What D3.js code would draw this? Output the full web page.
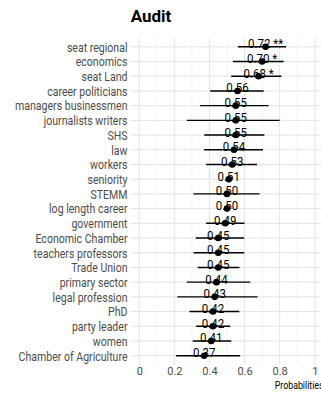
<!DOCTYPE html>
<html>
<head>
<meta charset="utf-8">
<script src="https://cdn.jsdelivr.net/npm/d3@7"></script>
<style>
  html, body { margin: 0; padding: 0; background: #fff; }
  svg { display: block; }
  text { font-family: Roboto, "Noto Sans", sans-serif; }
</style>
</head>
<body>
<svg id="chart" width="321" height="394"></svg>
<script>
// Predictors, top to bottom
const categories = [
  "seat regional", "economics", "seat Land", "career politicians",
  "managers businessmen", "journalists writers", "SHS", "law", "workers",
  "seniority", "STEMM", "log length career", "government",
  "Economic Chamber", "teachers professors", "Trade Union", "primary sector",
  "legal profession", "PhD", "party leader", "women", "Chamber of Agriculture"
];
// Estimated probabilities
const estimates = [
  0.72, 0.70, 0.68, 0.56, 0.55, 0.55, 0.55, 0.54, 0.53, 0.51, 0.50, 0.50,
  0.49, 0.45, 0.45, 0.45, 0.44, 0.43, 0.42, 0.42, 0.41, 0.37
];
// Confidence interval bounds (null where no interval is shown)
const lower = [
  0.562, 0.534, 0.524, 0.404, 0.347, 0.271, 0.370, 0.370, 0.381, null, 0.309, null,
  0.381, 0.322, 0.309, 0.333, 0.271, 0.217, 0.286, 0.324, 0.305, 0.210
];
const upper = [
  0.837, 0.823, 0.810, 0.709, 0.737, 0.800, 0.713, 0.705, 0.671, null, 0.686, null,
  0.600, 0.598, 0.598, 0.571, 0.633, 0.674, 0.570, 0.518, 0.524, 0.575
];
// Significance markers
const stars = [
  "**", "*", "*", "", "", "", "", "", "", "", "", "",
  "", "", "", "", "", "", "", "", "", ""
];
const xTicks = [0, 0.2, 0.4, 0.6, 0.8, 1];
const xMinor = [0.1, 0.3, 0.5, 0.7, 0.9];

const rows = categories.map((c, i) => ({
  cat: c, est: estimates[i], lo: lower[i], hi: upper[i], star: stars[i]
}));

const svg = d3.select("#chart");
const panel = { left: 130.5, right: 323.5, top: 38, bottom: 364.5 };
const condensed = "scale(0.88,1)";

const x = d3.scaleLinear()
  .domain([-0.05, 1.05])
  .range([panel.left, panel.right]);

const y = d3.scalePoint()
  .domain(categories)
  .range([panel.top, panel.bottom])
  .padding(0.6);

// Grid
const grid = svg.append("g");
grid.selectAll("line.minor").data(xMinor).enter().append("line")
  .attr("x1", d => x(d)).attr("x2", d => x(d))
  .attr("y1", panel.top).attr("y2", panel.bottom)
  .attr("stroke", "#ededed").attr("stroke-width", 0.6);
grid.selectAll("line.major").data(xTicks).enter().append("line")
  .attr("x1", d => x(d)).attr("x2", d => x(d))
  .attr("y1", panel.top).attr("y2", panel.bottom)
  .attr("stroke", "#e4e4e4").attr("stroke-width", 1);
grid.selectAll("line.row").data(categories).enter().append("line")
  .attr("x1", panel.left).attr("x2", panel.right)
  .attr("y1", d => y(d)).attr("y2", d => y(d))
  .attr("stroke", "#e4e4e4").attr("stroke-width", 1);

// Axes
const xAxis = svg.append("g")
  .attr("transform", `translate(0,${panel.bottom})`)
  .call(d3.axisBottom(x).tickValues(xTicks).tickSize(0).tickPadding(3)
    .tickFormat(d => d3.format("~g")(d)));
xAxis.select(".domain").remove();
xAxis.selectAll("text")
  .attr("fill", "#4d4d4d").style("font-size", "11px")
  .style("font-family", "Roboto, sans-serif");

const yAxis = svg.append("g")
  .attr("transform", `translate(${panel.left - 3},0)`)
  .call(d3.axisLeft(y).tickSize(0).tickPadding(0));
yAxis.select(".domain").remove();
yAxis.selectAll("text")
  .attr("fill", "#4d4d4d").style("font-size", "12px")
  .style("font-family", "Roboto, sans-serif")
  .attr("dy", "0.36em")
  .attr("transform", condensed);

// Intervals
const marks = svg.append("g");
marks.selectAll("line.ci").data(rows.filter(d => d.lo !== null)).enter().append("line")
  .attr("x1", d => x(d.lo)).attr("x2", d => x(d.hi))
  .attr("y1", d => y(d.cat)).attr("y2", d => y(d.cat))
  .attr("stroke", "#000").attr("stroke-width", 1.4);

// Points
marks.selectAll("circle").data(rows).enter().append("circle")
  .attr("cx", d => x(d.est)).attr("cy", d => y(d.cat))
  .attr("r", 3.3).attr("fill", "#000");

// Value labels
marks.selectAll("g.val").data(rows).enter().append("g")
  .attr("transform", d => `translate(${x(d.est)},${y(d.cat) + 1.5})`)
  .append("text")
  .attr("text-anchor", "middle")
  .attr("transform", "scale(0.92,1)")
  .attr("fill", "#000")
  .style("font-size", "12.5px")
  .text(d => d3.format(".2f")(d.est) + (d.star ? " " + d.star : ""));

// Title
svg.append("text")
  .attr("x", 151).attr("y", 22)
  .attr("text-anchor", "middle")
  .style("font-size", "17px").style("font-weight", "bold")
  .attr("fill", "#000")
  .text("Audit");

// X axis title
svg.append("g")
  .attr("transform", `translate(${panel.right},388.5)`)
  .append("text")
  .attr("text-anchor", "end")
  .attr("transform", condensed)
  .style("font-size", "10px")
  .attr("fill", "#000")
  .text("Probabilities");
</script>
</body>
</html>
